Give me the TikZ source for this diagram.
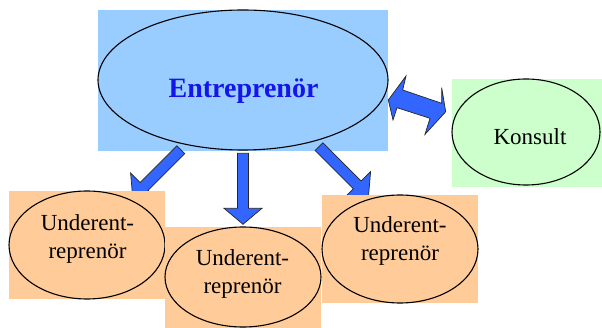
\documentclass[tikz,border=0pt]{standalone}
\usepackage{fontspec}
\setmainfont{Liberation Serif}
\usetikzlibrary{shapes.geometric}
\definecolor{entbg}{HTML}{99CCFF}
\definecolor{konbg}{HTML}{CCFFCC}
\definecolor{subbg}{HTML}{FFCC99}
\definecolor{arrowblue}{HTML}{3366FF}
\definecolor{titleblue}{RGB}{20,20,235}
\begin{document}
\begin{tikzpicture}[x=1pt,y=-1pt,
  bubble/.style={ellipse, draw=black, line width=1.1pt, inner sep=0pt},
  blockarrow/.style={fill=arrowblue, draw=black!85, line width=0.7pt, line join=miter},
  subtext/.style={font=\fontsize{23}{28}\selectfont, align=center, inner sep=0pt, text=black},
  pics/downarrow/.style={code={
    \draw[blockarrow] (0,-5.5) -- (#1-16,-5.5) -- (#1-16,-19) -- (#1,0)
      -- (#1-16,19) -- (#1-16,5.5) -- (0,5.5) -- cycle;}}]
\useasboundingbox (0,0) rectangle (602,328);

% entrepreneur panel
\fill[entbg] (98,10) rectangle (388,151);
\node[bubble, fill=entbg, minimum width=290pt, minimum height=140pt] (ent) at (243,80) {};
\node[anchor=base, inner sep=0pt, text=titleblue,
      font=\fontsize{28}{32}\selectfont\bfseries] (entlbl) at (243.5,98) {Entreprenör};

% consultant panel
\fill[konbg] (452,79) rectangle (602,187);
\node[bubble, fill=konbg, minimum width=148pt, minimum height=106pt] (kon) at (526,132) {};
\node[anchor=base, inner sep=0pt, font=\fontsize{23}{28}\selectfont] (konlbl) at (530,145) {Konsult};

% two-way arrow between entrepreneur and consultant
\draw[blockarrow] (388.3,100) -- (406,76) -- (402.7,90) -- (441.7,103.3) -- (441.7,87.7)
  -- (445.7,111.7) -- (425,134.3) -- (430,118.3) -- (397,107.7) -- (393,120) -- cycle;

% arrows down to the sub-entrepreneurs
\pic[shift={(180.8,149.7)}, rotate=-135] {downarrow=68};
\pic[shift={(243,153.3)}, rotate=-90] {downarrow=71};
\pic[shift={(319,146.7)}, rotate=-45] {downarrow=70};

% sub-entrepreneur panels
\fill[subbg] (9,191) rectangle (165,299);
\node[bubble, fill=subbg, minimum width=156pt, minimum height=108pt] (sub1) at (87,245) {};
\node[subtext] (sub1lbl) at (87.5,238.6) {Underent-\\reprenör};

\fill[subbg] (165,227) rectangle (321,328);
\node[bubble, fill=subbg, minimum width=156pt, minimum height=100pt] (sub2) at (243,277) {};
\node[subtext] (sub2lbl) at (242.5,273.6) {Underent-\\reprenör};

\fill[subbg] (322,195) rectangle (478,303);
\node[bubble, fill=subbg, minimum width=156pt, minimum height=108pt] (sub3) at (400,249) {};
\node[subtext] (sub3lbl) at (400,241.1) {Underent-\\reprenör};
\end{tikzpicture}
\end{document}
